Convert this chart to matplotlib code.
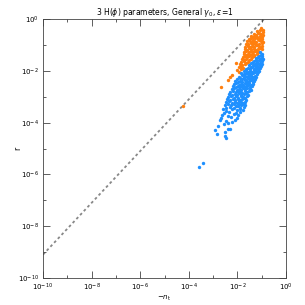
import numpy as np
import matplotlib
matplotlib.use("Agg")
import matplotlib.pyplot as plt
from matplotlib.ticker import FixedLocator, NullFormatter

# (log10(-n_t), log10(r)) pairs
blue_pts = [
    (-1.06, -1.29), (-1.01, -1.33),
    (-1.13, -1.41), (-1.04, -1.38), (-0.99, -1.44),
    (-1.22, -1.51), (-1.16, -1.46), (-1.07, -1.53), (-1.01, -1.49), (-0.97, -1.55),
    (-1.33, -1.62), (-1.24, -1.57), (-1.18, -1.64), (-1.11, -1.60), (-1.03, -1.58), (-0.98, -1.63),
    (-1.43, -1.71), (-1.36, -1.67), (-1.27, -1.74), (-1.21, -1.69), (-1.13, -1.72), (-1.06, -1.68), (-1.00, -1.75),
    (-1.52, -1.79), (-1.44, -1.84), (-1.37, -1.78), (-1.29, -1.82), (-1.20, -1.80), (-1.14, -1.85), (-1.07, -1.79), (-1.02, -1.83),
    (-1.64, -1.91), (-1.55, -1.88), (-1.47, -1.93), (-1.40, -1.87), (-1.31, -1.92), (-1.24, -1.89), (-1.16, -1.94), (-1.09, -1.90),
    (-1.74, -2.01), (-1.66, -1.97), (-1.57, -2.04), (-1.49, -1.99), (-1.41, -2.03), (-1.33, -1.98), (-1.25, -2.02), (-1.17, -2.05), (-1.12, -1.99),
    (-1.84, -2.09), (-1.75, -2.13), (-1.66, -2.08), (-1.58, -2.12), (-1.50, -2.07), (-1.43, -2.14), (-1.35, -2.10), (-1.27, -2.06), (-1.19, -2.12),
    (-1.92, -2.22), (-1.83, -2.17), (-1.74, -2.23), (-1.67, -2.19), (-1.59, -2.24), (-1.51, -2.18), (-1.44, -2.21), (-1.36, -2.25), (-1.28, -2.19), (-1.22, -2.23),
    (-2.01, -2.31), (-1.91, -2.27), (-1.82, -2.33), (-1.73, -2.29), (-1.64, -2.34), (-1.57, -2.28), (-1.48, -2.32), (-1.41, -2.27), (-1.33, -2.35), (-1.27, -2.30),
    (-2.09, -2.38), (-1.98, -2.43), (-1.89, -2.39), (-1.80, -2.42), (-1.71, -2.37), (-1.62, -2.44), (-1.54, -2.40), (-1.46, -2.36), (-1.38, -2.42), (-1.31, -2.39),
    (-2.14, -2.52), (-2.05, -2.47), (-1.94, -2.53), (-1.86, -2.49), (-1.77, -2.54), (-1.68, -2.48), (-1.59, -2.51), (-1.51, -2.46), (-1.43, -2.53), (-1.36, -2.50),
    (-2.19, -2.59), (-2.08, -2.63), (-1.99, -2.58), (-1.90, -2.62), (-1.81, -2.57), (-1.72, -2.64), (-1.63, -2.60), (-1.55, -2.56), (-1.47, -2.63), (-1.41, -2.59),
    (-2.24, -2.71), (-2.13, -2.67), (-2.03, -2.73), (-1.95, -2.69), (-1.85, -2.74), (-1.76, -2.68), (-1.67, -2.72), (-1.59, -2.66), (-1.50, -2.71), (-1.45, -2.75),
    (-2.29, -2.82), (-2.18, -2.78), (-2.08, -2.83), (-1.99, -2.77), (-1.89, -2.81), (-1.80, -2.85), (-1.71, -2.79), (-1.62, -2.82), (-1.53, -2.78),
    (-2.34, -2.89), (-2.22, -2.93), (-2.12, -2.88), (-2.02, -2.92), (-1.93, -2.87), (-1.84, -2.94), (-1.75, -2.90), (-1.66, -2.86), (-1.57, -2.92),
    (-2.40, -3.02), (-2.27, -2.97), (-2.16, -3.03), (-2.06, -2.99), (-1.96, -3.04), (-1.87, -2.98), (-1.78, -3.01), (-1.69, -3.05), (-1.61, -2.99),
    (-2.44, -3.09), (-2.31, -3.13), (-2.19, -3.08), (-2.09, -3.12), (-1.99, -3.07), (-1.90, -3.14), (-1.81, -3.10), (-1.72, -3.06), (-1.64, -3.12),
    (-2.47, -3.22), (-2.34, -3.18), (-2.23, -3.23), (-2.12, -3.19), (-2.02, -3.24), (-1.93, -3.17), (-1.84, -3.21), (-1.76, -3.25), (-1.67, -3.19),
    (-2.53, -3.31), (-2.39, -3.27), (-2.26, -3.33), (-2.16, -3.29), (-2.05, -3.34), (-1.95, -3.28), (-1.86, -3.32), (-1.79, -3.27), (-1.70, -3.33),
    (-2.46, -3.42), (-2.31, -3.38), (-2.14, -3.43), (-1.98, -3.37), (-1.88, -3.44), (-1.74, -3.40),
    (-2.58, -3.49), (-2.49, -3.54), (-2.21, -3.48), (-2.03, -3.52), (-1.91, -3.47), (-1.78, -3.53),
    (-2.54, -3.62), (-2.33, -3.57), (-2.07, -3.63), (-1.89, -3.59),
    (-2.63, -3.69), (-2.41, -3.73), (-2.16, -3.68), (-1.96, -3.72),
    (-2.67, -3.82), (-2.26, -3.78), (-2.01, -3.81),
    (-2.73, -3.88), (-2.49, -3.93), (-2.11, -3.90),
    (-2.41, -4.02), (-2.21, -3.98),
    (-2.79, -4.12), (-2.56, -4.07),
    (-2.91, -4.27), (-2.37, -4.23), (-2.29, -4.26),
    (-2.86, -4.42), (-2.51, -4.38),
    (-2.53, -4.50), (-2.47, -4.61),
    (-3.43, -5.55), (-3.57, -5.73),
]

orange_pts = [
    (-1.02, -0.35), (-0.96, -0.41),
    (-1.19, -0.47), (-1.06, -0.44), (-0.97, -0.50), (-1.12, -0.52),
    (-1.33, -0.57), (-1.24, -0.60), (-1.15, -0.55), (-1.03, -0.58), (-0.96, -0.62),
    (-1.44, -0.66), (-1.36, -0.70), (-1.27, -0.65), (-1.18, -0.69), (-1.09, -0.64), (-1.00, -0.68),
    (-1.53, -0.76), (-1.43, -0.73), (-1.35, -0.79), (-1.26, -0.75), (-1.17, -0.78), (-1.08, -0.74), (-0.99, -0.77),
    (-1.59, -0.86), (-1.50, -0.83), (-1.41, -0.88), (-1.31, -0.84), (-1.22, -0.87), (-1.13, -0.82), (-1.04, -0.86), (-0.97, -0.89),
    (-1.64, -0.95), (-1.55, -0.98), (-1.46, -0.93), (-1.37, -0.97), (-1.28, -0.94), (-1.19, -0.99), (-1.10, -0.95), (-1.01, -0.92),
    (-1.67, -1.06), (-1.58, -1.03), (-1.49, -1.08), (-1.40, -1.04), (-1.31, -1.07), (-1.22, -1.02), (-1.13, -1.06), (-1.04, -1.09), (-0.98, -1.04),
    (-1.70, -1.15), (-1.61, -1.18), (-1.52, -1.13), (-1.43, -1.17), (-1.34, -1.14), (-1.25, -1.19), (-1.16, -1.15), (-1.07, -1.12), (-1.00, -1.17),
    (-1.73, -1.26), (-1.63, -1.23), (-1.54, -1.28), (-1.45, -1.24), (-1.36, -1.27), (-1.27, -1.22), (-1.18, -1.26), (-1.10, -1.29),
    (-1.75, -1.35), (-1.66, -1.38), (-1.57, -1.33), (-1.48, -1.37), (-1.39, -1.34), (-1.30, -1.39), (-1.21, -1.36),
    (-1.78, -1.46), (-1.69, -1.43), (-1.60, -1.48), (-1.51, -1.44), (-1.42, -1.47), (-1.33, -1.43),
    (-1.81, -1.55), (-1.72, -1.58), (-1.63, -1.53), (-1.54, -1.57), (-1.45, -1.54),
    (-1.85, -1.66), (-1.75, -1.63), (-1.66, -1.68), (-1.57, -1.64),
    (-1.90, -1.75), (-1.80, -1.78), (-1.70, -1.74),
    (-1.95, -1.86), (-1.84, -1.83), (-1.76, -1.88),
    (-2.00, -1.96), (-1.87, -1.93),
    (-1.95, -2.05),
    (-4.25, -3.35), (-2.69, -2.61), (-2.39, -2.36), (-2.30, -2.23), (-2.23, -2.16), (-2.06, -1.70),
]

consistency_factor = 8.0  # r = -8 n_t
nt_line = np.array([1e-10, 1.0 / consistency_factor])

blue = 10.0 ** np.array(blue_pts).T
orange = 10.0 ** np.array(orange_pts).T

fig = plt.figure(figsize=(3.05, 3.05), dpi=100)
ax = fig.add_axes([0.141, 0.0885, 0.797, 0.849])

ax.scatter(orange[0], orange[1], s=6, marker="o", color="#FF7F0E",
           linewidths=0, zorder=2)
ax.scatter(blue[0], blue[1], s=6, marker="o", color="#1E90FF",
           linewidths=0, zorder=3)
ax.plot(nt_line, consistency_factor * nt_line, color="#888888",
        ls=(0, (1.5, 1.5)), lw=1.3, zorder=1)

ax.set_xscale("log")
ax.set_yscale("log")
ax.set_xlim(1e-10, 1)
ax.set_ylim(1e-10, 1)

major = [10.0 ** k for k in range(-10, 1, 2)]
minor = [10.0 ** k for k in range(-9, 0, 2)]
for a in (ax.xaxis, ax.yaxis):
    a.set_major_locator(FixedLocator(major))
    a.set_minor_locator(FixedLocator(minor))
    a.set_minor_formatter(NullFormatter())

ax.tick_params(which="both", direction="in", top=True, right=True,
               labelsize=5, color="#444444", width=0.6, pad=3)
ax.tick_params(which="major", length=5)
ax.tick_params(which="minor", length=2.5)
for sp in ax.spines.values():
    sp.set_linewidth(0.6)
    sp.set_color("#444444")

ax.set_title(r"3 H($\phi$) parameters, General $\gamma_0$, $\epsilon$=1",
             fontsize=5.5, pad=2)
ax.set_xlabel(r"$-n_{\rm t}$", fontsize=5)
ax.set_ylabel("r", fontsize=5.5, rotation=90)
ax.xaxis.set_label_coords(0.5, -0.062)
ax.yaxis.set_label_coords(-0.085, 0.5)

fig.savefig("out.png", dpi=100)
